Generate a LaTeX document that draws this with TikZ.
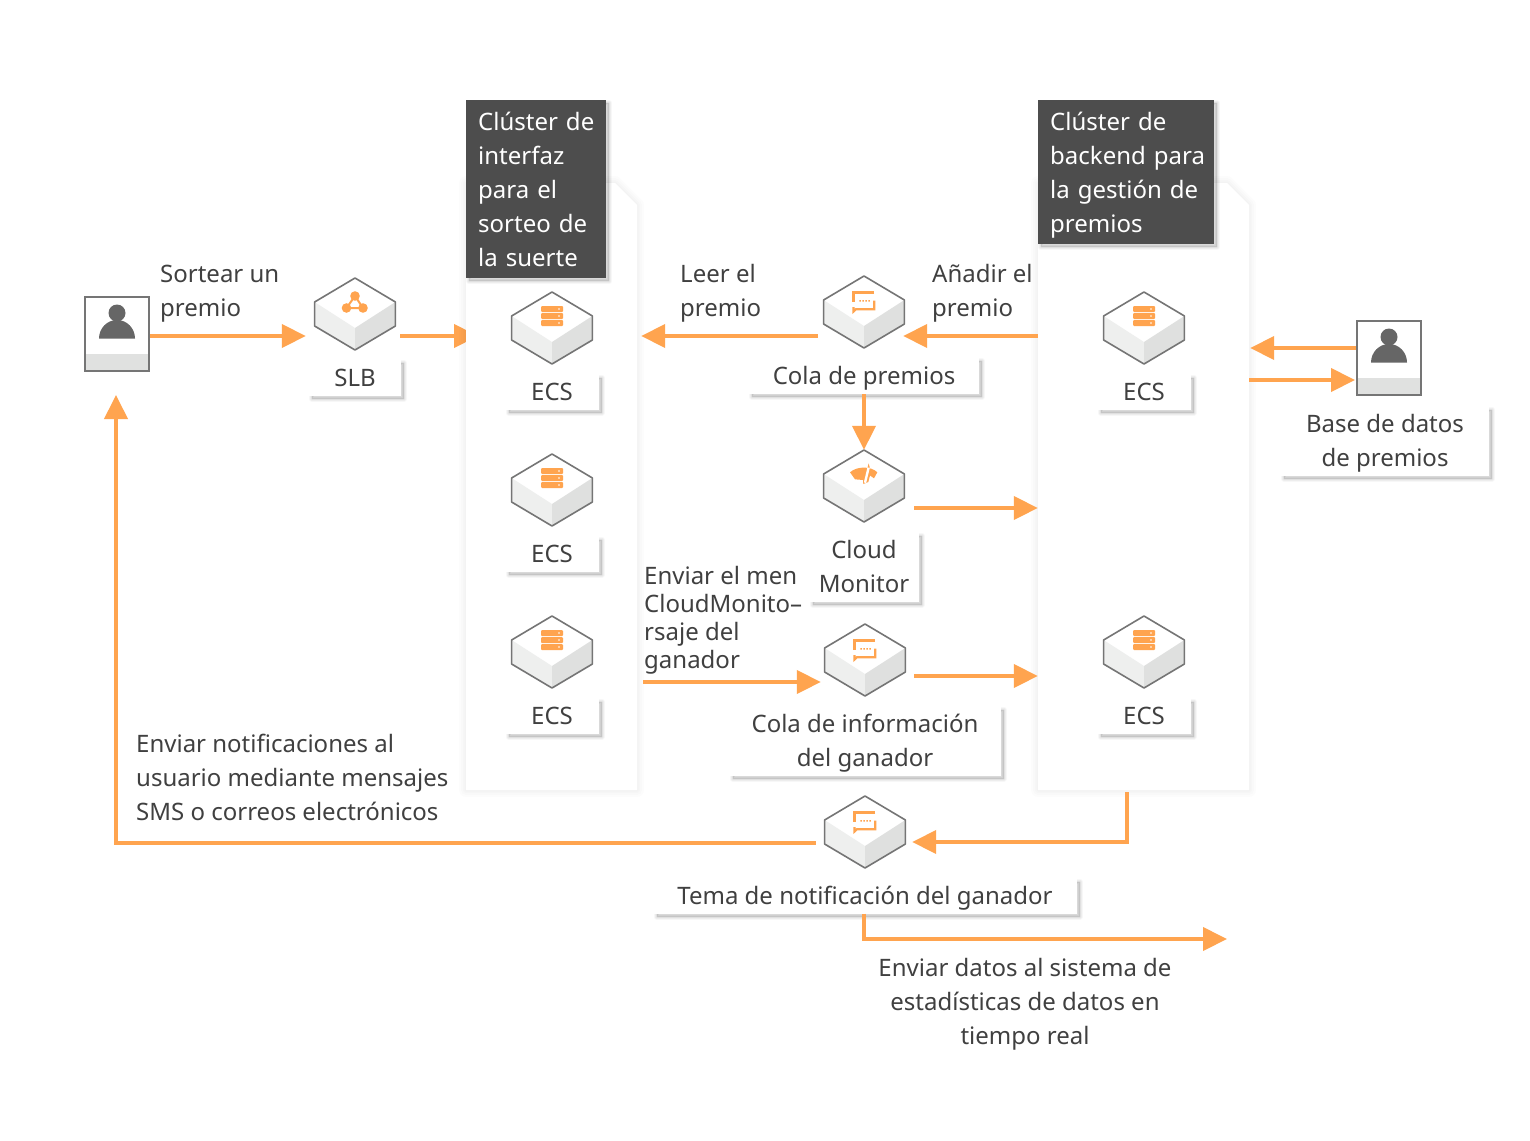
\documentclass[tikz,border=0pt]{standalone}
\usepackage{fontspec}
\setmainfont{Noto Sans}
\usetikzlibrary{arrows.meta,calc}
\definecolor{arrow}{HTML}{FFA44F}
\definecolor{ink}{HTML}{404040}
\definecolor{hexedge}{HTML}{757575}
\definecolor{faceL}{HTML}{EEEFEE}
\definecolor{faceR}{HTML}{DFE0DF}
\definecolor{dark}{HTML}{4D4D4D}
\definecolor{band}{HTML}{E0E1E0}
\definecolor{usergray}{HTML}{666666}
\newcommand{\st}{\rule[-8pt]{0pt}{32pt}}
\newcommand{\stt}{\rule[-8pt]{0pt}{34pt}}
\newcommand{\stm}{\rule[-8pt]{0pt}{26pt}}
\newcommand{\ind}{\hspace*{12pt}}
\tikzset{
  x=1pt,y=-1pt,
  txt/.style={font=\fontsize{24}{34}\selectfont,text=ink,inner sep=0pt,align=center},
  txtl/.style={txt,align=left,anchor=west},
  flow/.style={draw=arrow,line width=4pt,-{Triangle[length=24pt,width=23pt,fill=arrow]}},
  softbox/.style={
    preaction={draw=black,line width=14pt,opacity=.010,line join=round},
    preaction={draw=black,line width=10pt,opacity=.010,line join=round},
    preaction={draw=black,line width=6pt,opacity=.012,line join=round},
    preaction={draw=black,line width=3pt,opacity=.012,line join=round},
    fill=white},
  lbl/.style={txt,fill=white,minimum width=#1,
    preaction={draw=black,fill=black,opacity=.03,line width=6pt,line join=round,transform canvas={shift={(3pt,-3pt)}}},
    preaction={draw=black,fill=black,opacity=.04,line width=4pt,line join=round,transform canvas={shift={(3pt,-3pt)}}},
    preaction={draw=black,fill=black,opacity=.05,line width=2pt,line join=round,transform canvas={shift={(3pt,-3pt)}}}},
  head/.style={txtl,text=white,fill=dark,anchor=north west,inner sep=0pt,
    preaction={draw=black,fill=black,opacity=.03,line width=6pt,line join=round,transform canvas={shift={(3pt,-3pt)}}},
    preaction={draw=black,fill=black,opacity=.04,line width=4pt,line join=round,transform canvas={shift={(3pt,-3pt)}}},
    preaction={draw=black,fill=black,opacity=.05,line width=2pt,line join=round,transform canvas={shift={(3pt,-3pt)}}}},
}
\newcommand{\hexnode}[4]{%
\begin{scope}[shift={(#2,#3)}]
  \node[minimum width=82pt,minimum height=72pt,inner sep=0pt] (#1) at (0,36) {};
  \fill[white] (0,0)--(40.4,24)--(40.4,48)--(0,72)--(-40.4,48)--(-40.4,24)--cycle;
  \fill[faceL] (-40.4,24)--(0,50)--(0,72)--(-40.4,48)--cycle;
  \fill[faceR] (40.4,24)--(0,50)--(0,72)--(40.4,48)--cycle;
  \draw[hexedge,line width=1.6pt,line join=round] (0,0)--(40.4,24)--(40.4,48)--(0,72)--(-40.4,48)--(-40.4,24)--cycle;
  #4
\end{scope}}
\newcommand{\iconserver}{%
  \foreach \yy in {14,21,28}{
    \fill[arrow,rounded corners=1pt] (-11,\yy) rectangle (11,\yy+6);
    \fill[white] (7,\yy+3) circle (.9);}}
\newcommand{\iconslb}{%
  \draw[arrow,line width=2pt] (0,18)--(-8.5,30)--(8,30)--cycle;
  \fill[arrow] (0,18) circle (4.8) (-8.5,30) circle (4.8) (8,30) circle (4.8);}
\newcommand{\iconmsg}{%
  \draw[arrow,line width=2.2pt] (10,16.5)--(-10.5,16.5)--(-10.5,26);
  \draw[arrow,line width=2.2pt] (10.2,24.5)--(10.2,33.2)--(-8,33.2)--(-10.5,35.5)--(-10.5,31);
  \fill[arrow] (-4.6,24) rectangle (-3.1,25.5) (-1.6,24) rectangle (-0.1,25.5) (1.4,24) rectangle (2.9,25.5) (4.4,24) rectangle (5.9,25.5);}
\newcommand{\icongauge}{%
  \fill[arrow] (-14,22.3) .. controls (-7,16) and (7,16) .. (13.3,22.3) -- (10,28.3) -- (6,25.5) -- (4.3,32) -- (-0.7,34) -- (-1,30) -- (-9,29.3) -- cycle;
  \draw[white,line width=2.4pt] (5,16)--(1,32.7);
  \fill[arrow] (3.6,17.5) -- (4.6,13.3)--(5.8,17.5)--cycle;}
\newcommand{\usericon}[3]{%
\node[draw=hexedge,line width=2pt,fill=white,minimum width=64pt,minimum height=74pt,inner sep=0pt] (#1) at (#2,#3) {};
\fill[band] ($(#1.south west)+(2,-18)$) rectangle ($(#1.south east)+(-2,-2)$);
\fill[usergray] (#2,#3-21) circle (8.5);
\fill[usergray] (#2-18,#3+4.5) arc[start angle=180,end angle=0,x radius=18,y radius=-18.5] -- cycle;}
\begin{document}
\begin{tikzpicture}
\useasboundingbox[fill=white] (0,0) rectangle (1530,1140);

% arrow passing behind the panel
\usericon{userA}{117}{334}
\hexnode{slb}{355}{278}{\iconslb}
\coordinate (panelLin) at (478,336);
\draw[flow] ($(slb.east |- 0,336)+(4,0)$) -- (panelLin);

% panels
\path[softbox] (466,183) -- (615,183) -- (637,205) -- (637,790) -- (466,790) -- cycle;
\path[softbox] (1038,183) -- (1227,183) -- (1249,205) -- (1249,790) -- (1038,790) -- cycle;
\node[minimum width=171pt,minimum height=607pt,inner sep=0pt] (panelL) at (551.5,486.5) {};
\node[minimum width=211pt,minimum height=607pt,inner sep=0pt] (panelR) at (1143.5,486.5) {};

% headers
\node[head,text width=140pt,minimum height=178pt] (headL) at (466,100) {\ind\stt Clúster de\\\ind interfaz\\\ind para el\\\ind sorteo de\\\ind\st la suerte};
\node[head,text width=176pt,minimum height=144pt] (headR) at (1038,100) {\ind\stt Clúster de\\\ind backend para\\\ind la gestión de\\\ind\st premios};

% hexagons
\hexnode{ecsA}{552}{292}{\iconserver}
\hexnode{ecsB}{552}{454}{\iconserver}
\hexnode{ecsC}{552}{616}{\iconserver}
\hexnode{ecsD}{1144}{292}{\iconserver}
\hexnode{ecsE}{1144}{616}{\iconserver}
\hexnode{colaP}{864}{276}{\iconmsg}
\hexnode{cloud}{864}{450}{\icongauge}
\hexnode{colaI}{865}{624}{\iconmsg}
\hexnode{tema}{865}{796}{\iconmsg}
\usericon{userB}{1389}{358}

% label boxes
\node[lbl=92pt,minimum height=36pt] (lSLB) at (355,378) {\st SLB};
\node[lbl=93pt,minimum height=35pt] (lA) at (552,392) {\st ECS};
\node[lbl=93pt,minimum height=35pt] (lB) at (552,554) {\st ECS};
\node[lbl=93pt,minimum height=35pt] (lC) at (552,716) {\st ECS};
\node[lbl=93pt,minimum height=35pt] (lD) at (1144,392) {\st ECS};
\node[lbl=93pt,minimum height=35pt] (lE) at (1144,716) {\st ECS};
\node[lbl=230pt,minimum height=36pt] (lColaP) at (864,376) {\st Cola de premios};
\node[lbl=208pt,minimum height=69pt] (lBase) at (1385,441) {\st Base de datos\\\st de premios};
\node[lbl=109pt,minimum height=69pt] (lCloud) at (864,567) {\st Cloud\\\st Monitor};
\node[lbl=271pt,minimum height=69pt] (lColaI) at (865,741) {\st Cola de información\\\st del ganador};
\node[lbl=423pt,minimum height=35pt] (lTema) at (865,896) {\st Tema de notificación del ganador};

% free text
\node[txtl] (tSort) at (160,291) {\st Sortear un\\\st premio};
\node[txtl] (tLeer) at (680,291) {\st Leer el\\\st premio};
\node[txtl] (tAdd) at (932,291) {\st Añadir el\\\st premio};
\node[txtl,font=\fontsize{24}{28}\selectfont] (tMsg) at (644,621) {\stm Enviar el men\\CloudMonito–\\rsaje del\\\stm ganador};
\node[txtl] (tNotif) at (136,778) {\st Enviar notificaciones al\\usuario mediante mensajes\\\st SMS o correos electrónicos};
\node[txt] (tStats) at (1025,1002) {\st Enviar datos al sistema de\\estadísticas de datos en\\\st tiempo real};

% connectors
\coordinate (statsCorner) at (864,939);
\coordinate (statsEnd) at (1227,939);
\coordinate (notifUp) at (116,395);
\draw[flow] (userA.east |- 0,336) -- ($(slb.west |- 0,336)+(-8,0)$);
\draw[flow] ($(colaP.west |- 0,336)+(-5,0)$) -- ($(panelL.east |- 0,336)+(4,0)$);
\draw[flow] (panelR.west |- 0,336) -- ($(colaP.east |- 0,336)+(-2,0)$);
\draw[flow] (lColaP.south -| colaP.south) -- (cloud.north);
\draw[flow] ($(cloud.east |- 0,508)+(9,0)$) -- (panelR.west |- 0,508);
\draw[flow] ($(panelL.east |- 0,682)+(6,0)$) -- ($(colaI.west |- 0,682)+(-3,0)$);
\draw[flow] ($(colaI.east |- 0,676)+(8,0)$) -- (panelR.west |- 0,676);
\draw[flow] ($(panelR.south -| 1127,0)+(0,2)$) -- (1127,842) -- ($(tema.east |- 0,842)+(6,0)$);
\draw[flow] ($(tema.west |- 0,843)+(-8,0)$) -- (116,843) -- (notifUp);
\draw[flow] (lTema.south -| statsCorner) -- (statsCorner) -- (statsEnd);
\draw[flow] (userB.west |- 0,348) -- ($(panelR.east |- 0,348)+(1,0)$);
\draw[flow] (panelR.east |- 0,380) -- ($(userB.west |- 0,380)+(-1,0)$);
\end{tikzpicture}
\end{document}
